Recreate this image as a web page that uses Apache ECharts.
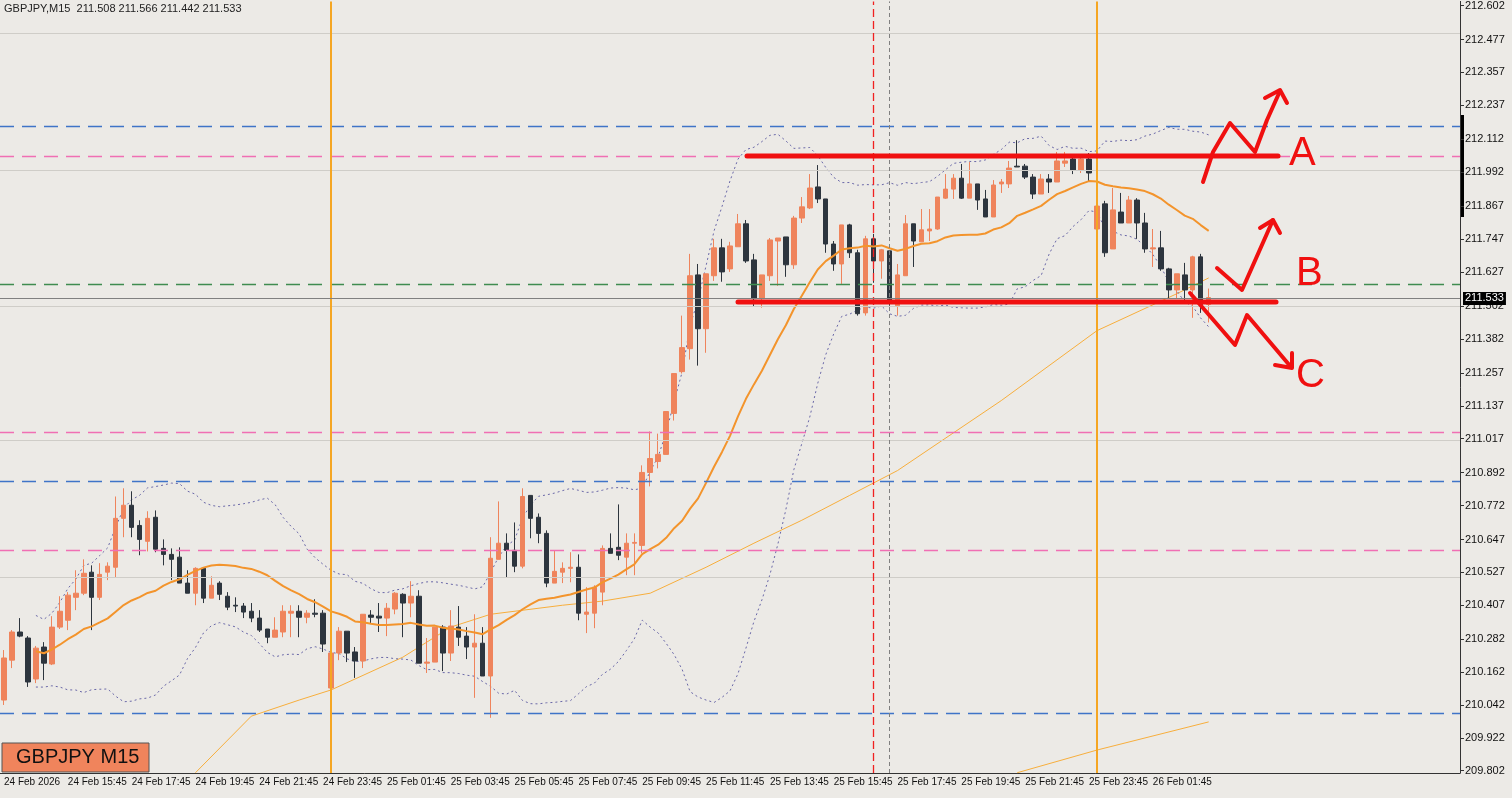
<!DOCTYPE html>
<html>
<head>
<meta charset="utf-8">
<script src="https://cdn.jsdelivr.net/npm/echarts@6/dist/echarts.min.js"></script>
<style>
html, body { margin: 0; padding: 0; background: #ECEAE6; }
#chart { width: 1512px; height: 798px; }
</style>
</head>
<body>
<div id="chart"></div>
<script>
// GBPJPY M15, bars from 24 Feb 13:45
var opens = [210.060,210.206,210.309,210.287,210.137,210.254,210.192,210.327,210.352,210.436,
  210.451,210.528,210.436,210.528,210.546,210.725,210.773,210.699,210.641,210.729,
  210.615,210.593,210.583,210.488,210.451,210.542,210.433,210.488,210.440,210.407,
  210.404,210.385,210.360,210.320,210.290,210.309,210.378,210.385,210.363,210.378,
  210.378,210.104,210.232,210.312,210.236,210.203,210.371,210.367,210.360,210.393,
  210.447,210.415,210.440,210.195,210.199,210.327,210.232,210.327,210.294,210.254,
  210.268,210.148,210.575,210.634,210.608,210.550,210.809,210.729,210.670,210.488,
  210.528,210.542,210.546,210.374,210.378,210.455,210.615,210.619,210.583,210.634,
  210.626,210.893,210.933,210.959,211.109,211.262,211.346,211.616,211.419,211.613,
  211.715,211.638,211.719,211.803,211.671,211.529,211.613,211.740,211.755,211.653,
  211.824,211.861,211.938,211.894,211.729,211.656,211.799,211.697,211.477,211.748,
  211.667,211.704,211.503,211.613,211.803,211.737,211.777,211.784,211.897,211.930,
  211.970,211.897,211.949,211.894,211.828,211.949,211.949,212.014,212.014,211.974,
  211.912,211.967,211.956,212.025,212.040,212.000,212.040,211.784,211.876,211.711,
  211.846,211.806,211.890,211.806,211.711,211.715,211.638,211.561,211.616,211.561,
  211.682,211.508];
var closes = [210.214,210.309,210.294,210.126,210.250,210.195,210.327,210.385,210.444,210.451,
  210.524,210.436,210.520,210.550,210.725,210.773,210.692,210.648,210.725,210.612,
  210.593,210.575,210.488,210.451,210.542,210.433,210.480,210.447,210.400,210.404,
  210.382,210.360,210.316,210.290,210.316,210.385,210.385,210.363,210.378,210.374,
  210.265,210.232,210.312,210.232,210.203,210.374,210.363,210.360,210.396,210.451,
  210.415,210.440,210.195,210.199,210.327,210.232,210.331,210.290,210.254,210.268,
  210.148,210.579,210.634,210.608,210.550,210.805,210.725,210.670,210.488,210.531,
  210.542,210.546,210.378,210.382,210.473,210.615,210.597,210.590,210.634,210.637,
  210.893,210.944,210.959,211.116,211.255,211.350,211.613,211.419,211.620,211.715,
  211.627,211.722,211.803,211.667,211.529,211.616,211.744,211.751,211.653,211.824,
  211.865,211.934,211.894,211.729,211.656,211.799,211.697,211.474,211.748,211.667,
  211.708,211.514,211.616,211.803,211.740,211.781,211.784,211.901,211.930,211.970,
  211.897,211.949,211.890,211.828,211.945,211.956,212.007,212.011,211.974,211.912,
  211.967,211.956,212.033,212.033,212.000,212.040,211.989,211.868,211.697,211.854,
  211.806,211.890,211.806,211.711,211.715,211.638,211.561,211.620,211.561,211.682,
  211.508,211.533];
var lows = [210.042,210.177,210.290,210.108,210.122,210.133,210.188,210.320,210.316,210.389,
  210.444,210.316,210.426,210.499,210.510,210.656,210.656,210.590,210.604,210.601,
  210.553,210.499,210.488,210.451,210.407,210.415,210.433,210.426,210.389,210.382,
  210.360,210.345,210.309,210.268,210.290,210.290,210.290,210.290,210.341,210.363,
  210.236,210.097,210.206,210.199,210.141,210.177,210.341,210.309,210.294,210.374,
  210.290,210.363,210.195,210.159,210.199,210.166,210.203,210.258,210.210,210.068,
  210.148,209.995,210.575,210.510,210.528,210.542,210.652,210.634,210.473,210.488,
  210.488,210.491,210.352,210.305,210.323,210.407,210.597,210.572,210.517,210.517,
  210.597,210.842,210.908,210.959,211.083,211.255,211.306,211.284,211.331,211.594,
  211.591,211.627,211.719,211.660,211.499,211.496,211.594,211.576,211.609,211.638,
  211.806,211.857,211.879,211.697,211.631,211.583,211.678,211.467,211.467,211.587,
  211.602,211.503,211.467,211.613,211.645,211.737,211.740,211.781,211.894,211.894,
  211.894,211.897,211.854,211.828,211.828,211.916,211.934,212.011,211.967,211.894,
  211.912,211.916,211.956,212.011,211.985,211.989,211.956,211.777,211.682,211.711,
  211.806,211.806,211.748,211.697,211.645,211.631,211.529,211.529,211.521,211.459,
  211.477,211.442];
var highs = [210.243,210.316,210.360,210.294,210.258,210.272,210.367,210.440,210.455,210.535,
  210.575,210.553,210.561,210.564,210.805,210.835,210.824,210.718,210.751,210.754,
  210.648,210.615,210.619,210.535,210.546,210.546,210.513,210.495,210.455,210.436,
  210.415,210.415,210.389,210.320,210.363,210.407,210.407,210.407,210.389,210.429,
  210.389,210.243,210.327,210.312,210.254,210.374,210.389,210.415,210.415,210.455,
  210.451,210.495,210.462,210.287,210.327,210.334,210.389,210.404,210.327,210.374,
  210.327,210.656,210.787,210.670,210.710,210.835,210.809,210.743,210.681,210.608,
  210.564,210.601,210.593,210.473,210.480,210.626,210.670,210.776,210.670,210.670,
  210.919,211.043,211.035,211.116,211.255,211.467,211.693,211.656,211.620,211.748,
  211.748,211.737,211.839,211.817,211.693,211.616,211.751,211.751,211.755,211.832,
  211.901,211.985,212.018,211.894,211.740,211.799,211.803,211.708,211.759,211.766,
  211.711,211.704,211.656,211.835,211.803,211.857,211.857,211.901,211.985,211.985,
  212.022,212.029,211.949,211.927,211.963,211.967,212.033,212.109,212.022,211.985,
  211.985,211.985,212.066,212.066,212.051,212.051,212.062,211.952,211.887,211.934,
  211.916,211.905,211.897,211.843,211.784,211.777,211.642,211.620,211.660,211.686,
  211.693,211.566];

// slow moving averages at these bars
var ma100Bars = [24, 31, 37, 41, 50, 56, 61, 70, 75, 81, 88, 94, 100, 106, 112, 125, 137, 147, 151];
var ma100Vals = [209.794, 210.001, 210.060, 210.097, 210.217, 210.327, 210.374, 210.407, 210.422, 210.451,
  210.546, 210.634, 210.718, 210.809, 210.900, 211.156, 211.412, 211.547, 211.605];
var ma200Bars = [127, 137, 151];
var ma200Vals = [209.794, 209.877, 209.980];

var blueLevels = [212.164, 210.860, 210.009];
var pinkLevels = [212.054, 211.036, 210.612];
var greenLevels = [211.576];
var greyLevels = [212.504, 212.003, 211.503, 211.006, 210.506];
var bidPrice = 211.533;

var yTicks = [212.602,212.477,212.357,212.237,212.112,211.992,211.867,211.747,211.627,211.502,
  211.382,211.257,211.137,211.017,210.892,210.772,210.647,210.527,210.407,210.282,
  210.162,210.042,209.922,209.802];

var nSlots = 183;
var months = ['Jan','Feb','Mar'];
var cats = [];
var t0 = Date.UTC(2026, 1, 24, 13, 45);
for (var i = 0; i < nSlots; i++) {
  var d = new Date(t0 + i * 15 * 60000);
  var hh = ('0' + d.getUTCHours()).slice(-2), mm = ('0' + d.getUTCMinutes()).slice(-2);
  cats.push(i === 0 ? '24 Feb 2026' : d.getUTCDate() + ' ' + months[d.getUTCMonth()] + ' ' + hh + ':' + mm);
}

var ohlc = [];
for (var i = 0; i < closes.length; i++) ohlc.push([opens[i], closes[i], lows[i], highs[i]]);

// bollinger 20, 2
var mid = [], up = [], dn = [];
for (var i = 0; i < closes.length; i++) {
  if (i < 4) { mid.push(null); up.push(null); dn.push(null); continue; }
  var n = Math.min(20, i + 1), s = 0, s2 = 0;
  for (var k = i - n + 1; k <= i; k++) s += closes[k];
  var m = s / n;
  for (var k = i - n + 1; k <= i; k++) s2 += (closes[k] - m) * (closes[k] - m);
  var sd = Math.sqrt(s2 / n);
  mid.push(+m.toFixed(4)); up.push(+(m + 2 * sd).toFixed(4)); dn.push(+(m - 2 * sd).toFixed(4));
}

function sparse(bars, vals) {
  var a = [];
  for (var i = 0; i < closes.length; i++) a.push(null);
  bars.forEach(function (b, j) { a[b] = vals[j]; });
  return a;
}

// one empty series per group of reference lines
function levelSeries(items, color, type, width, z) {
  var ls = { color: color, type: type, width: width || 1, opacity: 1 };
  return {
    type: 'line', data: [], z: z || 0, silent: true,
    markLine: { symbol: 'none', silent: true, animation: false, label: { show: false },
      lineStyle: ls, emphasis: { disabled: true },
      data: items.map(function (it) { it.lineStyle = ls; return it; }) }
  };
}
function ys(levels) { return levels.map(function (v) { return { yAxis: v }; }); }

var red = '#F01010';
function stroke(points, w) {
  return { type: 'polyline', shape: { points: points }, style: { stroke: red, lineWidth: w || 4, fill: null, lineCap: 'round', lineJoin: 'round' }, z: 100 };
}
function letter(t, x, y) {
  return { type: 'text', x: x, y: y, style: { text: t, fill: red, font: '40px "Liberation Sans", sans-serif' }, z: 100 };
}

var labelShown = function (i) { return i % 8 === 0 && i < closes.length; };

var chart = echarts.init(document.getElementById('chart'));
chart.setOption({
  animation: false,
  backgroundColor: '#ECEAE6',
  grid: { left: -4, top: 0, width: nSlots * 8, height: 773 },
  xAxis: {
    type: 'category', data: cats, boundaryGap: true,
    axisLine: { lineStyle: { color: '#333' } },
    axisTick: { alignWithLabel: true, interval: labelShown, lineStyle: { color: '#333' } },
    axisLabel: { interval: labelShown, hideOverlap: false, align: 'left',
      color: '#111', fontSize: 10, fontFamily: 'Liberation Sans', margin: 4 },
    splitLine: { show: false }
  },
  yAxis: {
    type: 'value', position: 'right', min: 209.793, max: 212.617, scale: true,
    axisLine: { show: true, lineStyle: { color: '#333' } },
    axisTick: { show: true, customValues: yTicks, length: 4, lineStyle: { color: '#333' } },
    axisLabel: { customValues: yTicks, formatter: function (v) { return v.toFixed(3); },
      color: '#111', fontSize: 11, fontFamily: 'Liberation Sans', margin: 5 },
    splitLine: { show: false }
  },
  series: [
    levelSeries(ys(greyLevels), '#CFCDC8', 'solid', 1),
    levelSeries(ys(blueLevels), '#3F74C8', [14, 8], 1.3),
    levelSeries(ys(pinkLevels), '#F06FB4', [14, 8], 1.3),
    levelSeries(ys(greenLevels), '#3F8C50', [14, 8], 1.3),
    levelSeries([{ xAxis: 41 }, { xAxis: 137 }], '#F5A623', 'solid', 2),
    levelSeries([{ xAxis: 109 }], '#F02020', [8, 4], 1.3),
    levelSeries([{ xAxis: 111 }], '#808080', [4, 3], 1),
    { type: 'line', data: [], silent: true,
      markLine: { symbol: 'none', silent: true, lineStyle: { color: '#808080', type: 'solid', width: 1 },
        label: { show: true, position: 'end', distance: 3, formatter: bidPrice.toFixed(3),
          backgroundColor: '#000', color: '#fff', fontSize: 11, fontFamily: 'Liberation Sans', padding: [1, 2] },
        data: [{ yAxis: bidPrice }] } },
    { type: 'line', data: sparse(ma200Bars, ma200Vals), connectNulls: true, symbol: 'none',
      lineStyle: { color: '#F7AE3C', width: 1 }, z: 1 },
    { type: 'line', data: sparse(ma100Bars, ma100Vals), connectNulls: true, symbol: 'none',
      lineStyle: { color: '#F7AE3C', width: 1 }, z: 1 },
    { type: 'line', data: up, symbol: 'none', lineStyle: { color: '#6A68A8', width: 1, type: [2, 3] }, z: 1 },
    { type: 'line', data: dn, symbol: 'none', lineStyle: { color: '#6A68A8', width: 1, type: [2, 3] }, z: 1 },
    { type: 'line', data: mid, symbol: 'none', lineStyle: { color: '#F3942C', width: 2 }, z: 3 },
    { type: 'candlestick', data: ohlc, barWidth: 5, z: 2,
      itemStyle: { color: '#EF845C', color0: '#2D353E', borderColor: '#EF845C', borderColor0: '#2D353E', borderWidth: 1 } }
  ],
  graphic: [
    { type: 'text', left: 4, top: 3, style: { text: 'GBPJPY,M15  211.508 211.566 211.442 211.533', fill: '#222', font: '11px "Liberation Sans"' } },
    { type: 'rect', shape: { x: 2, y: 743, width: 147, height: 29 }, style: { fill: '#F0845C', stroke: '#555', lineWidth: 1 } },
    { type: 'text', x: 16, y: 747, style: { text: 'GBPJPY M15', fill: '#111', font: '20px "Liberation Sans", sans-serif' } },
    { type: 'rect', shape: { x: 1460, y: 115, width: 4, height: 102 }, style: { fill: '#000' } },
    { type: 'line', shape: { x1: 747, y1: 156, x2: 1278, y2: 156 }, style: { stroke: red, lineWidth: 5, lineCap: 'round' }, z: 100 },
    { type: 'line', shape: { x1: 738, y1: 302, x2: 1276, y2: 302 }, style: { stroke: red, lineWidth: 5, lineCap: 'round' }, z: 100 },
    stroke([[1203, 182], [1213, 152], [1230, 123], [1255, 152], [1267, 120], [1280, 91]]),
    stroke([[1265, 98], [1280, 90], [1287, 103]]),
    stroke([[1217, 268], [1242, 290], [1273, 220]]),
    stroke([[1260, 228], [1273, 220], [1280, 233]]),
    stroke([[1190, 293], [1235, 345], [1247, 315], [1291, 367]]),
    stroke([[1275, 365], [1292, 368], [1292, 353]]),
    letter('A', 1289, 134),
    letter('B', 1296, 254),
    letter('C', 1296, 356)
  ]
});
</script>
</body>
</html>
